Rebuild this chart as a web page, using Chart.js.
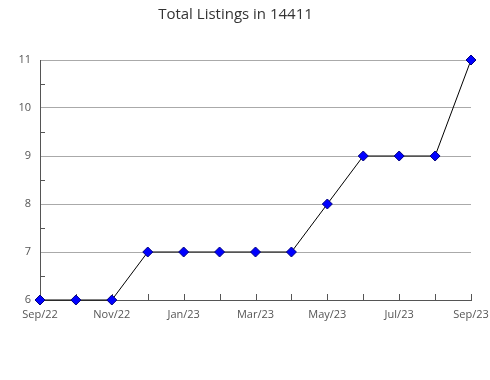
<!DOCTYPE html>
<html>
<head>
<meta charset="utf-8">
<script src="https://cdn.jsdelivr.net/npm/chart.js@4.4.0/dist/chart.umd.min.js"></script>
<style>
  html, body { margin: 0; padding: 0; background: #fff; }
  #wrap { width: 490px; height: 380px; }
</style>
</head>
<body>
<div id="wrap"><canvas id="listingsChart" width="490" height="380"></canvas></div>
<script>
    // chart data
    const months = ['Sep/22', 'Oct/22', 'Nov/22', 'Dec/22', 'Jan/23', 'Feb/23', 'Mar/23',
                    'Apr/23', 'May/23', 'Jun/23', 'Jul/23', 'Aug/23', 'Sep/23'];
    const listings = [6, 6, 6, 7, 7, 7, 7, 7, 8, 9, 9, 9, 11];
    const yTicks = [6, 7, 8, 9, 10, 11];

    // short tick marks drawn inside the plot, like the original
    const innerTicks = {
        id: 'innerTicks',
        beforeDatasetsDraw(chart) {
            const c = chart.ctx;
            const x = chart.scales.x;
            const y = chart.scales.y;
            c.save();
            c.strokeStyle = '#555';
            c.lineWidth = 1;
            c.beginPath();
            months.forEach((m, i) => {
                const px = Math.round(x.getPixelForValue(i)) + 0.5;
                c.moveTo(px, y.bottom);
                c.lineTo(px, y.bottom - 6);
            });
            for (let v = yTicks[0] + 0.5; v < yTicks[yTicks.length - 1]; v += 1) {
                const py = Math.round(y.getPixelForValue(v)) + 0.5;
                c.moveTo(x.left, py);
                c.lineTo(x.left + 5, py);
            }
            c.stroke();
            c.restore();
        }
    };

    const ctx = document.getElementById('listingsChart').getContext('2d');
    new Chart(ctx, {
        type: 'line',
        data: {
            labels: months,
            datasets: [{
                data: listings,
                clip: false,
                borderColor: '#000',
                borderWidth: 1,
                tension: 0,
                pointStyle: 'rectRot',
                pointRadius: 5,
                pointBackgroundColor: '#0000ff',
                pointBorderColor: '#000080',
                pointBorderWidth: 1
            }]
        },
        options: {
            responsive: false,
            animation: false,
            layout: { padding: { left: 0, right: 19, top: 0, bottom: 0 } },
            plugins: {
                legend: { display: false },
                tooltip: { enabled: false },
                title: {
                    display: true,
                    text: 'Total Listings in 14411',
                    color: '#333',
                    font: { family: "'Open Sans', sans-serif", size: 15, weight: 'normal' },
                    padding: { top: 6, bottom: 36 }
                }
            },
            scales: {
                x: {
                    type: 'category',
                    offset: false,
                    grid: { display: false },
                    border: { display: true, color: '#555' },
                    ticks: {
                        color: '#555',
                        padding: 0,
                        maxRotation: 0,
                        autoSkip: false,
                        font: { family: "'Open Sans', sans-serif", size: 11 },
                        callback: (v, i) => (i % 2 === 0 ? months[i] : '')
                    },
                    afterFit: (s) => { s.height = 80; }
                },
                y: {
                    min: 6,
                    max: 11,
                    afterBuildTicks: (s) => { s.ticks = yTicks.map(v => ({ value: v })); },
                    grid: { color: '#aaa', drawTicks: false },
                    border: { display: true, color: '#555' },
                    ticks: {
                        color: '#555',
                        padding: 9,
                        font: { family: "'Open Sans', sans-serif", size: 11 }
                    },
                    afterFit: (s) => { s.width = 40; }
                }
            }
        },
        plugins: [innerTicks]
    });
</script>
</body>
</html>
